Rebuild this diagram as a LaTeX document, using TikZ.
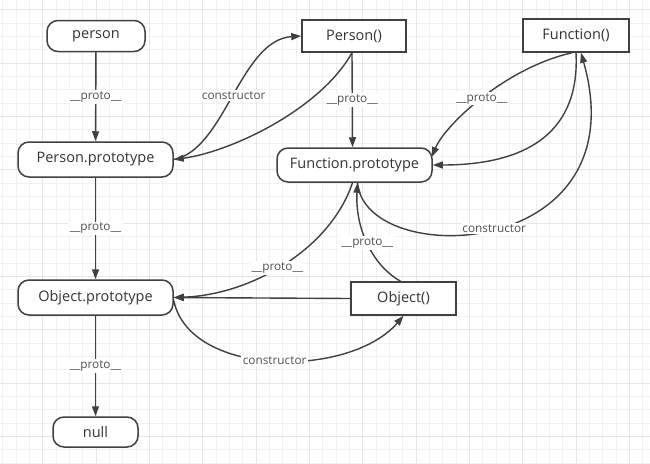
\documentclass[tikz,border=0pt]{standalone}
\usepackage{fontspec}
\setmainfont{Open Sans}
\usetikzlibrary{arrows.meta,calc}
\definecolor{linec}{HTML}{404040}
\definecolor{textc}{HTML}{333333}
\definecolor{lblc}{HTML}{505050}
\definecolor{gridminor}{HTML}{F1F1F1}
\definecolor{gridmajor}{HTML}{E6E6E6}
\begin{document}
\begin{tikzpicture}[x=1pt,y=-1pt,
  rbox/.style={draw=linec,line width=1.5pt,rounded corners=11pt,fill=white,text=textc,
    font=\fontsize{14.5}{16}\selectfont,inner sep=0pt},
  sbox/.style={draw=linec,line width=1.5pt,fill=white,text=textc,
    font=\fontsize{14.5}{16}\selectfont,inner sep=0pt},
  conn/.style={draw=linec,line width=1.4pt,-{Triangle[length=10pt,width=7pt]}},
  lbl/.style={fill=white,inner sep=1.5pt,text=lblc,font=\fontsize{11.8}{13}\selectfont}]
\fill[white] (0,0) rectangle (650,463);
\useasboundingbox (0,0) rectangle (650,463);
\foreach \i in {0,...,49} {
  \draw[gridminor,line width=0.7pt] (2.7+13.333*\i,0) -- (2.7+13.333*\i,463);
}
\foreach \i in {0,...,35} {
  \draw[gridminor,line width=0.7pt] (0,9.7+13.333*\i) -- (650,9.7+13.333*\i);
}
\foreach \i in {0,...,12} {
  \draw[gridmajor,line width=0.8pt] (42.7+53.333*\i,0) -- (42.7+53.333*\i,463);
}
\foreach \i in {0,...,8} {
  \draw[gridmajor,line width=0.8pt] (0,9.7+53.333*\i) -- (650,9.7+53.333*\i);
}

% nodes
\node[rbox,minimum width=98pt,minimum height=31pt] (person) at (96,36) {person};
\node[sbox,minimum width=104pt,minimum height=32pt] (Pc) at (354,36) {Person()};
\node[sbox,minimum width=106pt,minimum height=33pt] (Fc) at (576,35.5) {Function()};
\node[rbox,minimum width=155pt,minimum height=35pt] (pp) at (95.5,159.5) {Person.prototype};
\node[rbox,minimum width=155pt,minimum height=34pt] (fp) at (354.5,165) {Function.prototype};
\node[rbox,minimum width=155pt,minimum height=35pt] (op) at (95.5,297.5) {Object.prototype};
\node[sbox,minimum width=105pt,minimum height=33pt] (oc) at (403.5,298.5) {Object()};
\node[rbox,minimum width=85pt,minimum height=30pt] (nul) at (95.5,432) {null};

% left column
\draw[conn] (person) -- node[lbl] {\_\_proto\_\_} (pp);
\draw[conn] (pp) -- node[lbl] {\_\_proto\_\_} (op);
\draw[conn] (op) -- node[lbl] {\_\_proto\_\_} (nul);

% Person()
\draw[conn] ($(Pc.south)+(-2,0)$) .. controls (320,110) and (230,152) .. (pp.east);
\draw[conn] (pp.east) .. controls (225,150) and (240,40) .. node[lbl,pos=0.5] {constructor} (Pc.west);
\draw[conn] ($(Pc.south)+(-2,0)$) -- node[lbl] {\_\_proto\_\_} ($(fp.north)+(-2,0)$);

% Function()
\draw[conn] ($(Fc.south)+(-4,0)$) .. controls (505,68) and (445,125) .. node[lbl,pos=0.5] {\_\_proto\_\_} ($(fp.east)+(-1,-8)$);
\draw[conn] (Fc.south) .. controls (580,130) and (530,165) .. (fp.east);
\draw[conn] ($(fp.south)+(3,0)$) .. controls (365,270) and (640,262) .. node[lbl,pos=0.5] {constructor} ($(Fc.south)+(5,0)$);

% Object()
\draw[conn] ($(oc.north)+(-3,0)$) .. controls (372,265) and (355,228) .. node[lbl,pos=0.5] {\_\_proto\_\_} ($(fp.south)+(3,0)$);
\draw[conn] ($(fp.south)+(-2,0)$) .. controls (330,250) and (250,295) .. node[lbl,pos=0.53] {\_\_proto\_\_} (op.east);
\draw[conn] (oc.west) -- (op.east);
\draw[conn] ($(op.east)+(0,3)$) .. controls (190,378) and (350,378) .. node[lbl,pos=0.5] {constructor} (oc.south);
\end{tikzpicture}
\end{document}
